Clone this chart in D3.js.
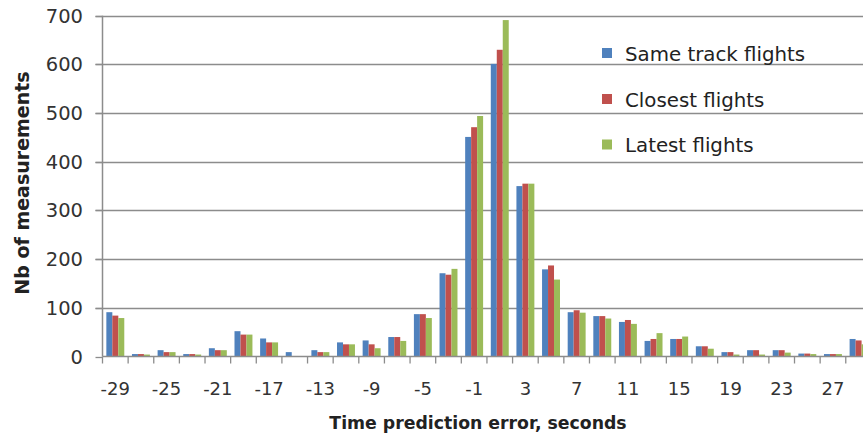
<!DOCTYPE html>
<html>
<head>
<meta charset="utf-8">
<script src="https://cdn.jsdelivr.net/npm/d3@7"></script>
<style>
  html, body { margin: 0; padding: 0; background: #fff; overflow: hidden; }
  svg { display: block; font-family: "DejaVu Sans", Verdana, sans-serif; }
</style>
</head>
<body>
<svg id="chart" width="863" height="439"></svg>
<script>
// ---- data ----
const categories = [-29, -27, -25, -23, -21, -19, -17, -15, -13, -11, -9, -7, -5, -3, -1,
                    1, 3, 5, 7, 9, 11, 13, 15, 17, 19, 21, 23, 25, 27, 29];
const sameTrack = [91, 5, 13, 5, 17, 52, 37, 9, 13, 29, 33, 40, 87, 171, 451,
                   601, 350, 179, 91, 83, 71, 32, 36, 21, 9, 13, 13, 6, 5, 36];
const closest   = [84, 5, 9, 5, 13, 45, 29, 0, 9, 25, 25, 40, 87, 168, 471,
                   630, 355, 187, 95, 83, 75, 36, 36, 21, 9, 13, 13, 6, 5, 33];
const latest    = [79, 4, 9, 4, 13, 45, 29, 0, 9, 25, 17, 32, 79, 180, 494,
                   691, 355, 158, 90, 78, 67, 48, 41, 16, 4, 4, 8, 5, 5, 25];
const seriesNames = ["Same track flights", "Closest flights", "Latest flights"];
const seriesColors = ["#4F81BD", "#C0504D", "#9BBB59"];
const yTicks = [0, 100, 200, 300, 400, 500, 600, 700];
const xTickLabels = [-29, -25, -21, -17, -13, -9, -5, -1, 3, 7, 11, 15, 19, 23, 27];

const seriesValues = [sameTrack, closest, latest];

// ---- layout ----
const svg = d3.select("#chart");
const plotLeft = 102.5, plotBottom = 356.5, plotTop = 15.7;
const band = 25.63;
const plotRight = plotLeft + band * categories.length;

const x = d3.scaleBand().domain(categories).range([plotLeft, plotRight]).paddingInner(0.3).paddingOuter(0.15);
const xs = d3.scaleBand().domain(d3.range(seriesValues.length)).range([0, x.bandwidth()]);
const y = d3.scaleLinear().domain([0, 700]).range([plotBottom, plotTop]);

const gridColor = "#8c8c8c";

// gridlines
svg.append("g").selectAll("line").data(yTicks.filter(d => d > 0)).join("line")
  .attr("x1", plotLeft - 7).attr("x2", plotRight)
  .attr("y1", d => Math.round(y(d)) + 0.5).attr("y2", d => Math.round(y(d)) + 0.5)
  .attr("stroke", gridColor).attr("stroke-width", 1.3);

// bars
const groups = svg.append("g").selectAll("g").data(categories).join("g")
  .attr("transform", d => `translate(${x(d)},0)`);
groups.selectAll("rect")
  .data((d, i) => seriesValues.map((s, k) => ({ k, v: s[i] })))
  .join("rect")
  .attr("x", d => xs(d.k))
  .attr("width", xs.bandwidth())
  .attr("y", d => y(d.v))
  .attr("height", d => plotBottom - y(d.v))
  .attr("fill", d => seriesColors[d.k]);

// y axis line + ticks
svg.append("line").attr("x1", plotLeft).attr("x2", plotLeft).attr("y1", plotTop).attr("y2", plotBottom)
  .attr("stroke", gridColor).attr("stroke-width", 1.5);
svg.append("g").selectAll("line").data(yTicks).join("line")
  .attr("x1", plotLeft - 7).attr("x2", plotLeft)
  .attr("y1", d => Math.round(y(d)) + 0.5).attr("y2", d => Math.round(y(d)) + 0.5)
  .attr("stroke", gridColor).attr("stroke-width", 1.3);
svg.append("g").selectAll("text").data(yTicks).join("text")
  .attr("x", 83).attr("y", d => y(d))
  .attr("dy", "0.36em").attr("text-anchor", "end")
  .attr("font-size", 19.5).attr("fill", "#333")
  .text(d => d);

// x axis line + ticks between categories
svg.append("line").attr("x1", plotLeft).attr("x2", plotRight).attr("y1", plotBottom).attr("y2", plotBottom)
  .attr("stroke", gridColor).attr("stroke-width", 1.5);
svg.append("g").selectAll("line").data(d3.range(categories.length + 1)).join("line")
  .attr("x1", i => plotLeft + i * band).attr("x2", i => plotLeft + i * band)
  .attr("y1", plotBottom).attr("y2", plotBottom + 7)
  .attr("stroke", gridColor).attr("stroke-width", 1.3);
svg.append("g").selectAll("text").data(xTickLabels).join("text")
  .attr("x", d => x(d) + x.bandwidth() / 2).attr("y", 395)
  .attr("text-anchor", "middle").attr("font-size", 18).attr("fill", "#333")
  .text(d => d);

// axis titles
svg.append("text").attr("x", 478).attr("y", 429).attr("text-anchor", "middle")
  .attr("font-size", 17.3).attr("font-weight", "bold").attr("fill", "#222")
  .text("Time prediction error, seconds");
svg.append("text").attr("transform", "translate(29,183) rotate(-90)")
  .attr("text-anchor", "middle").attr("font-size", 19).attr("font-weight", "bold").attr("fill", "#222")
  .text("Nb of measurements");

// legend
const legend = svg.append("g").selectAll("g").data(seriesNames).join("g")
  .attr("transform", (d, i) => `translate(602,${[53.5, 99.5, 145][i]})`);
legend.append("rect").attr("x", 0).attr("y", -5.5).attr("width", 10).attr("height", 10)
  .attr("fill", (d, i) => seriesColors[i]);
legend.append("text").attr("x", 23).attr("y", 0).attr("dy", "0.36em")
  .attr("font-size", 19.8).attr("fill", "#222").text(d => d);
</script>
</body>
</html>
